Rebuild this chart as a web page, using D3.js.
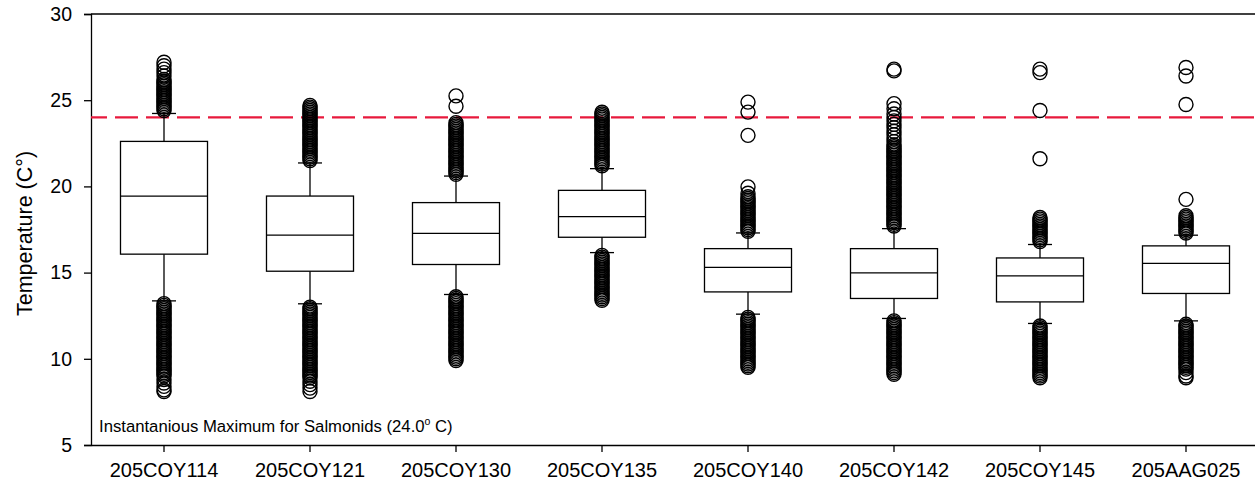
<!DOCTYPE html>
<html>
<head>
<meta charset="utf-8">
<script src="https://cdn.jsdelivr.net/npm/d3@7"></script>
<style>
  html, body { margin: 0; padding: 0; background: #fff; }
  svg { display: block; font-family: "Liberation Sans", Arial, sans-serif; }
</style>
</head>
<body>
<svg id="chart" width="1255" height="484"></svg>
<script>
// ---- data ----
const categories = ["205COY114", "205COY121", "205COY130", "205COY135", "205COY140", "205COY142", "205COY145", "205AAG025"];
const whiskerLow  = [13.36, 13.19, 13.73, 16.16, 12.59, 12.34, 12.05, 12.20];
const q1          = [16.07, 15.08, 15.47, 17.05, 13.88, 13.50, 13.30, 13.79];
const median      = [19.44, 17.17, 17.27, 18.25, 15.30, 14.98, 14.81, 15.53];
const q3          = [22.61, 19.44, 19.06, 19.77, 16.39, 16.39, 15.85, 16.55];
const whiskerHigh = [24.23, 21.36, 20.60, 21.03, 17.30, 17.55, 16.63, 17.17];
const yTicks = [5, 10, 15, 20, 25, 30];
const thresholdValue = 24.0;

const outliers114 = [24.4,24.5,24.6,24.7,24.8,24.9,25.0,25.1,25.2,25.3,25.4,25.5,25.6,25.7,25.8,25.9,26.0,26.1,26.2,26.4,26.6,26.8,27.0,27.2,
  13.2,13.1,13.0,12.9,12.8,12.7,12.6,12.5,12.4,12.3,12.2,12.1,12.0,11.9,11.8,11.7,11.6,11.5,11.4,11.3,11.2,11.1,11.0,10.9,10.8,10.7,10.6,10.5,10.4,10.3,10.2,10.1,10.0,9.9,9.8,9.7,9.6,9.5,9.4,9.3,9.2,9.1,9.0,8.8,8.6,8.4,8.2,8.1];
const outliers121 = [21.5,21.6,21.7,21.8,21.9,22.0,22.1,22.2,22.3,22.4,22.5,22.6,22.7,22.8,22.9,23.0,23.1,23.2,23.3,23.4,23.5,23.6,23.7,23.8,23.9,24.0,24.1,24.2,24.3,24.4,24.5,24.6,24.7,
  13.0,12.9,12.8,12.7,12.6,12.5,12.4,12.3,12.2,12.1,12.0,11.9,11.8,11.7,11.6,11.5,11.4,11.3,11.2,11.1,11.0,10.9,10.8,10.7,10.6,10.5,10.4,10.3,10.2,10.1,10.0,9.9,9.8,9.7,9.6,9.5,9.4,9.3,9.2,9.1,9.0,8.9,8.7,8.5,8.3,8.1];
const outliers130 = [20.7,20.8,20.9,21.0,21.1,21.2,21.3,21.4,21.5,21.6,21.7,21.8,21.9,22.0,22.1,22.2,22.3,22.4,22.5,22.6,22.7,22.8,22.9,23.0,23.1,23.2,23.3,23.4,23.5,23.6,23.7,24.65,25.25,
  13.6,13.5,13.4,13.3,13.2,13.1,13.0,12.9,12.8,12.7,12.6,12.5,12.4,12.3,12.2,12.1,12.0,11.9,11.8,11.7,11.6,11.5,11.4,11.3,11.2,11.1,11.0,10.9,10.8,10.7,10.6,10.5,10.4,10.3,10.2,10.1,10.0,9.9];
const outliers135 = [21.2,21.3,21.4,21.5,21.6,21.7,21.8,21.9,22.0,22.1,22.2,22.3,22.4,22.5,22.6,22.7,22.8,22.9,23.0,23.1,23.2,23.3,23.4,23.5,23.6,23.7,23.8,23.9,24.0,24.1,24.2,24.3,
  16.0,15.9,15.8,15.7,15.6,15.5,15.4,15.3,15.2,15.1,15.0,14.9,14.8,14.7,14.6,14.5,14.4,14.3,14.2,14.1,14.0,13.9,13.8,13.7,13.6,13.5,13.4];
const outliers140 = [17.4,17.5,17.6,17.7,17.8,17.9,18.0,18.1,18.2,18.3,18.4,18.5,18.6,18.7,18.8,18.9,19.0,19.1,19.2,19.3,19.4,19.6,19.97,22.96,24.31,24.89,
  12.4,12.3,12.2,12.1,12.0,11.9,11.8,11.7,11.6,11.5,11.4,11.3,11.2,11.1,11.0,10.9,10.8,10.7,10.6,10.5,10.4,10.3,10.2,10.1,10.0,9.9,9.8,9.7,9.6,9.5];
const outliers142 = [17.7,17.8,17.9,18.0,18.1,18.2,18.3,18.4,18.5,18.6,18.7,18.8,18.9,19.0,19.1,19.2,19.3,19.4,19.5,19.6,19.7,19.8,19.9,20.0,20.1,20.2,20.3,20.4,20.5,20.6,20.7,20.8,20.9,21.0,21.1,21.2,21.3,21.4,21.5,21.6,21.7,21.8,21.9,22.0,22.1,22.2,22.3,22.4,22.6,22.8,23.0,23.2,23.4,23.6,23.8,24.0,24.2,24.5,24.8,26.7,26.8,
  12.2,12.1,12.0,11.9,11.8,11.7,11.6,11.5,11.4,11.3,11.2,11.1,11.0,10.9,10.8,10.7,10.6,10.5,10.4,10.3,10.2,10.1,10.0,9.9,9.8,9.7,9.6,9.5,9.4,9.3,9.2,9.1];
const outliers145 = [16.8,16.9,17.0,17.1,17.2,17.3,17.4,17.5,17.6,17.7,17.8,17.9,18.0,18.1,18.2,21.6,24.4,26.6,26.8,
  11.9,11.8,11.7,11.6,11.5,11.4,11.3,11.2,11.1,11.0,10.9,10.8,10.7,10.6,10.5,10.4,10.3,10.2,10.1,10.0,9.9,9.8,9.7,9.6,9.5,9.4,9.3,9.2,9.1,9.0,8.9];
const outliersAAG025 = [17.3,17.4,17.5,17.6,17.7,17.8,17.9,18.0,18.1,18.2,18.3,19.25,24.75,26.4,26.9,
  12.0,11.9,11.8,11.7,11.6,11.5,11.4,11.3,11.2,11.1,11.0,10.9,10.8,10.7,10.6,10.5,10.4,10.3,10.2,10.1,10.0,9.9,9.8,9.7,9.6,9.5,9.4,9.2,9.0,8.9];
const outliers = [outliers114, outliers121, outliers130, outliers135, outliers140, outliers142, outliers145, outliersAAG025];

// ---- layout ----
const svg = d3.select("#chart");
const margin = { left: 91, top: 14, bottom: 445, rightRange: 1259 };
const W = 1255;

const x = d3.scaleBand().domain(categories).range([margin.left, margin.rightRange])
  .paddingInner(0.404).paddingOuter(0.202);
const y = d3.scaleLinear().domain([5, 30]).range([margin.bottom, margin.top]);

const capW = 24, r = 7;
const stroke = "#000";
const FONT = "Liberation Sans, Arial, sans-serif";

// frame top line
svg.append("line").attr("x1", margin.left).attr("x2", W).attr("y1", y(30)).attr("y2", y(30))
  .attr("stroke", stroke).attr("stroke-width", 1.3);

// y axis
const yAxis = d3.axisLeft(y).tickValues(yTicks).tickSize(7).tickPadding(12).tickFormat(d3.format("d"));
const gy = svg.append("g").attr("transform", `translate(${margin.left},0)`).call(yAxis);
gy.select(".domain").attr("stroke-width", 1.3);
gy.selectAll(".tick line").attr("stroke-width", 1.3);
gy.selectAll("text").attr("font-size", 19.5).attr("font-family", FONT).attr("fill", "#000");

// x axis
const xAxis = d3.axisBottom(x).tickSize(7).tickPadding(11).tickSizeOuter(0);
const gx = svg.append("g").attr("transform", `translate(0,${margin.bottom})`).call(xAxis);
gx.select(".domain").attr("stroke-width", 1.3);
gx.selectAll(".tick line").attr("stroke-width", 1.3);
gx.selectAll("text").attr("font-size", 20).attr("font-family", FONT).attr("fill", "#000");

// y label
svg.append("text")
  .attr("transform", `translate(32,${(y(5) + y(30)) / 2 + 4}) rotate(-90)`)
  .attr("text-anchor", "middle").attr("font-size", 21.5).attr("font-family", FONT).attr("fill", "#000")
  .text("Temperature (C°)");

// threshold dashed line
svg.append("line")
  .attr("x1", margin.left).attr("x2", W)
  .attr("y1", y(thresholdValue)).attr("y2", y(thresholdValue))
  .attr("stroke", "#e8193c").attr("stroke-width", 2.2)
  .attr("stroke-dasharray", "23 8").attr("stroke-dashoffset", 7);

// boxes
const bw = x.bandwidth();
const g = svg.append("g");
categories.forEach((c, i) => {
  const cx = x(c) + bw / 2;
  const gg = g.append("g");
  gg.append("line").attr("x1", cx).attr("x2", cx).attr("y1", y(q3[i])).attr("y2", y(whiskerHigh[i]))
    .attr("stroke", stroke).attr("stroke-width", 1.3);
  gg.append("line").attr("x1", cx).attr("x2", cx).attr("y1", y(q1[i])).attr("y2", y(whiskerLow[i]))
    .attr("stroke", stroke).attr("stroke-width", 1.3);
  gg.append("line").attr("x1", cx - capW / 2).attr("x2", cx + capW / 2).attr("y1", y(whiskerHigh[i])).attr("y2", y(whiskerHigh[i]))
    .attr("stroke", stroke).attr("stroke-width", 1.3);
  gg.append("line").attr("x1", cx - capW / 2).attr("x2", cx + capW / 2).attr("y1", y(whiskerLow[i])).attr("y2", y(whiskerLow[i]))
    .attr("stroke", stroke).attr("stroke-width", 1.3);
  gg.append("rect").attr("x", x(c)).attr("width", bw)
    .attr("y", y(q3[i])).attr("height", y(q1[i]) - y(q3[i]))
    .attr("fill", "none").attr("stroke", stroke).attr("stroke-width", 1.3);
  gg.append("line").attr("x1", x(c)).attr("x2", x(c) + bw).attr("y1", y(median[i])).attr("y2", y(median[i]))
    .attr("stroke", stroke).attr("stroke-width", 1.3);
  gg.selectAll("circle").data(outliers[i]).join("circle")
    .attr("cx", cx).attr("cy", d => y(d)).attr("r", r)
    .attr("fill", "none").attr("stroke", stroke).attr("stroke-width", 1.4);
});

// annotation
const ann = svg.append("text").attr("x", 99).attr("y", 432).attr("font-size", 16.7).attr("font-family", FONT).attr("fill", "#000");
ann.append("tspan").text("Instantanious Maximum for Salmonids (24.0");
ann.append("tspan").attr("font-size", 10.5).attr("dy", -7).text("o");
ann.append("tspan").attr("dy", 7).text(" C)");
</script>
</body>
</html>
